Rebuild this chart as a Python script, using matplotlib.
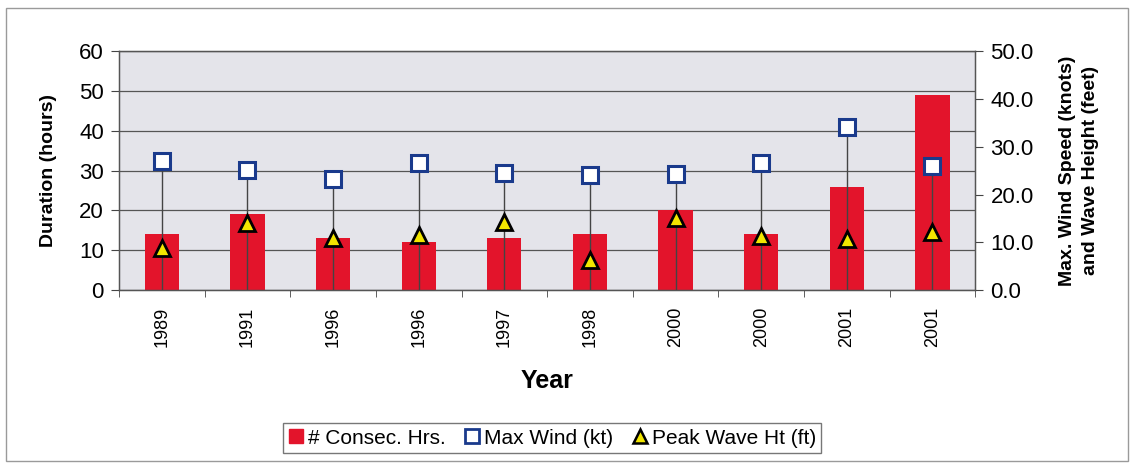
import numpy as np
import matplotlib.pyplot as plt
from matplotlib.ticker import FixedLocator, FormatStrFormatter
from matplotlib.patches import Rectangle
from matplotlib.lines import Line2D

years = ['1989', '1991', '1996', '1996', '1997', '1998', '2000', '2000', '2001', '2001']
consec_hrs = [14, 19, 13, 12, 13, 14, 20, 14, 26, 49]
max_wind = [27.0, 25.2, 23.2, 26.5, 24.5, 24.1, 24.4, 26.6, 34.2, 25.9]
peak_wave = [8.9, 14.1, 11.0, 11.5, 14.3, 6.3, 15.0, 11.3, 10.8, 12.2]

plt.rcParams['font.family'] = ['Liberation Sans', 'DejaVu Sans']

fig = plt.figure(figsize=(11.34, 4.65), dpi=100)
fig.patches.append(Rectangle((0.005, 0.008), 0.99, 0.975, transform=fig.transFigure,
                             fill=False, edgecolor='#9a9a9a', lw=1.0))

ax = fig.add_axes([0.105, 0.376, 0.755, 0.514])
ax.set_facecolor('#e4e4ea')
x = np.arange(len(years))

ax.bar(x, consec_hrs, width=0.4, color='#e3142b', zorder=2)
ax.set_ylim(0, 60)
ax.set_xlim(-0.5, len(years) - 0.5)
ax.set_yticks(range(0, 61, 10))
ax.yaxis.grid(True, color='#555555', lw=0.9, zorder=1)
ax.set_axisbelow(True)
ax.set_xticks(x)
ax.set_xticklabels(years, rotation=90, fontsize=13)
ax.tick_params(axis='x', length=0, pad=12)
ax.xaxis.set_minor_locator(FixedLocator(np.arange(-0.5, len(years), 1)))
ax.tick_params(axis='x', which='minor', length=5, direction='out', color='#444444')
ax.tick_params(axis='y', labelsize=16, length=6, color='#444444', pad=5)
ax.set_ylabel('Duration (hours)', fontsize=14, fontweight='bold', labelpad=16)
ax.set_xlabel('Year', fontsize=18, fontweight='bold', labelpad=16)
for s in ax.spines.values():
    s.set_color('#555555')
    s.set_linewidth(1.0)

ax2 = ax.twinx()
ax2.set_ylim(0, 50)
ax2.set_yticks(range(0, 51, 10))
ax2.yaxis.set_major_formatter(FormatStrFormatter('%.1f'))
ax2.tick_params(axis='y', labelsize=16, length=6, color='#444444', pad=5)
ax2.vlines(x, 0, max_wind, color='#444444', lw=1.0, zorder=3)
ax2.plot(x, max_wind, ls='none', marker='s', ms=11, mfc='white', mec='#1a3a8c', mew=2.2, zorder=4)
ax2.plot(x, peak_wave, ls='none', marker='^', ms=11, mfc='#f2e600', mec='black', mew=2.0, zorder=5)
ax2.set_ylabel('Max. Wind Speed (knots)\nand Wave Height (feet)', fontsize=14,
               fontweight='bold', labelpad=18, linespacing=1.45)
for s in ax2.spines.values():
    s.set_color('#555555')

handles = [
    Line2D([], [], ls='none', marker='s', ms=10, mfc='#e3142b', mec='#e3142b'),
    Line2D([], [], ls='none', marker='s', ms=10, mfc='white', mec='#1a3a8c', mew=2.0),
    Line2D([], [], ls='none', marker='^', ms=10, mfc='#f2e600', mec='black', mew=1.8),
]
labels = ['# Consec. Hrs.', 'Max Wind (kt)', 'Peak Wave Ht (ft)']
leg = fig.legend(handles, labels, loc='center', bbox_to_anchor=(0.487, 0.058), ncol=3,
                 fontsize=15, frameon=True, fancybox=False, handlelength=0.7,
                 handletextpad=0.25, columnspacing=0.9, borderpad=0.25)
leg.get_frame().set_edgecolor('#555555')
leg.get_frame().set_linewidth(1.0)

fig.savefig('out.png', dpi=100)
